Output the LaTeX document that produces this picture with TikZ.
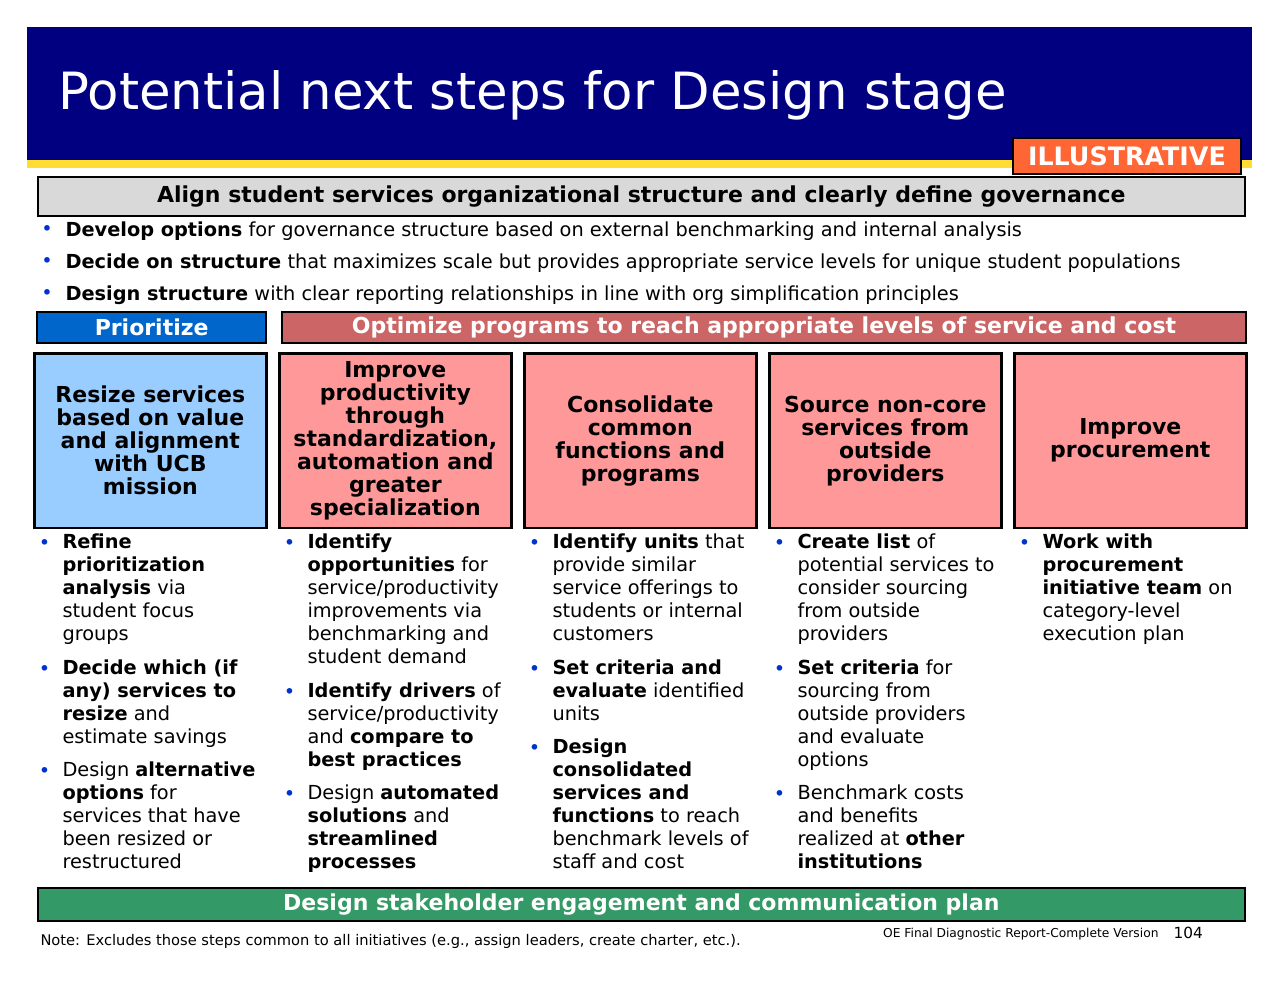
\documentclass[tikz,border=0pt]{standalone}
\usepackage{fontspec}
\setmainfont{DejaVu Sans}
\definecolor{navy}{RGB}{0,0,128}
\definecolor{stripe}{RGB}{255,221,51}
\definecolor{illus}{RGB}{255,102,51}
\definecolor{priblue}{RGB}{0,102,204}
\definecolor{optred}{RGB}{204,102,102}
\definecolor{lblue}{RGB}{153,204,255}
\definecolor{lpink}{RGB}{255,153,153}
\definecolor{greenbar}{RGB}{51,153,102}
\definecolor{bulblue}{RGB}{0,51,204}
\tikzset{every picture/.style={line width=0.75pt}}
\tikzset{
  bar/.style={draw=black,line width=1.5pt,font=\bfseries\fontsize{16.5}{19}\selectfont},
  box/.style={draw=black,line width=2pt,minimum width=174pt,minimum height=131pt,align=center,
    font=\bfseries\fontsize{16.5}{17.25}\selectfont,anchor=north west},
  item/.style={anchor=north west,align=left,inner sep=0pt,font=\fontsize{14.5}{17.25}\selectfont},
  topitem/.style={anchor=west,inner sep=0pt,font=\fontsize{14.5}{17}\selectfont},
  bul/.style={anchor=north,inner sep=0pt,text=bulblue,font=\fontsize{14.5}{17.25}\selectfont}
}
\begin{document}
\begin{tikzpicture}[x=0.75pt,y=0.75pt,yscale=-1,xscale=1]
\useasboundingbox (0,0) rectangle (1280,990);
% header
\fill [navy] (27,27) rectangle (1252,160);
\fill [stripe] (27,160) rectangle (1252,168);
\node (title) [anchor=west,text=white,inner sep=0pt,font=\fontsize{38.5}{42}\selectfont] at (58,95) {Potential next steps for Design stage};
\node (illus) [draw=black,line width=1.5pt,fill=illus,text=white,minimum width=171pt,minimum height=27pt,inner sep=0pt,
  font=\bfseries\fontsize{19}{22}\selectfont,anchor=north west] at (1012,137) {ILLUSTRATIVE};

% governance bar
\node (align) [bar,fill=black!15,minimum width=905pt,minimum height=29pt,anchor=north west,inner sep=0pt] at (37,176)
  {Align student services organizational structure and clearly define governance};
\node (b1) [topitem] at (65,231) {\textbf{Develop options} for governance structure based on external benchmarking and internal analysis};
\node (b2) [topitem] at (65,263) {\textbf{Decide on structure} that maximizes scale but provides appropriate service levels for unique student populations};
\node (b3) [topitem] at (65,295) {\textbf{Design structure} with clear reporting relationships in line with org simplification principles};
\foreach \yy in {231,263,295}
  \node [text=bulblue,inner sep=0pt,font=\fontsize{14.5}{17}\selectfont] at (47,\yy) {•};

% section bars
\node (prio) [bar,fill=priblue,text=white,draw=black,minimum width=172pt,minimum height=23pt,inner sep=0pt,anchor=north west] at (36,311) {Prioritize};
\node (optim) [bar,fill=optred,text=white,minimum width=723pt,minimum height=23pt,inner sep=0pt,anchor=north west] at (281,311)
  {Optimize programs to reach appropriate levels of service and cost};

% column boxes
\node (resize) [box,fill=lblue] at (33,352) {Resize services\\based on value\\and alignment\\with UCB\\mission};
\node (improve) [box,fill=lpink] at (278,352) {Improve\\productivity\\through\\standardization,\\automation and\\greater\\specialization};
\node (consol) [box,fill=lpink] at (523,352) {Consolidate\\common\\functions and\\programs};
\node (source) [box,fill=lpink] at (768,352) {Source non-core\\services from\\outside\\providers};
\node (procure) [box,fill=lpink] at (1013,352) {Improve\\procurement};

% column bullets
\node (r1) [item] at (62,533) {\textbf{Refine}\\\textbf{prioritization}\\\textbf{analysis} via\\student focus\\groups};
\node (r2) [item] at (62,659) {\textbf{Decide which (if}\\\textbf{any) services to}\\\textbf{resize} and\\estimate savings};
\node (r3) [item] at (62,761) {Design \textbf{alternative}\\\textbf{options} for\\services that have\\been resized or\\restructured};
\node (i1) [item] at (307,533) {\textbf{Identify}\\\textbf{opportunities} for\\service/productivity\\improvements via\\benchmarking and\\student demand};
\node (i2) [item] at (307,682) {\textbf{Identify drivers} of\\service/productivity\\and \textbf{compare to}\\\textbf{best practices}};
\node (i3) [item] at (307,784) {Design \textbf{automated}\\\textbf{solutions} and\\\textbf{streamlined}\\\textbf{processes}};
\node (c1) [item] at (552,533) {\textbf{Identify units} that\\provide similar\\service offerings to\\students or internal\\customers};
\node (c2) [item] at (552,659) {\textbf{Set criteria and}\\\textbf{evaluate} identified\\units};
\node (c3) [item] at (552,738) {\textbf{Design}\\\textbf{consolidated}\\\textbf{services and}\\\textbf{functions} to reach\\benchmark levels of\\staff and cost};
\node (s1) [item] at (797,533) {\textbf{Create list} of\\potential services to\\consider sourcing\\from outside\\providers};
\node (s2) [item] at (797,659) {\textbf{Set criteria} for\\sourcing from\\outside providers\\and evaluate\\options};
\node (s3) [item] at (797,784) {Benchmark costs\\and benefits\\realized at \textbf{other}\\\textbf{institutions}};
\node (p1) [item] at (1042,533) {\textbf{Work with}\\\textbf{procurement}\\\textbf{initiative team} on\\category-level\\execution plan};
\foreach \n in {r1,r2,r3,i1,i2,i3,c1,c2,c3,s1,s2,s3,p1}
  \node [bul] at ([xshift=-13pt]\n.north west) {\strut•};

% bottom
\node (stake) [bar,fill=greenbar,text=white,minimum width=905pt,minimum height=25pt,inner sep=0pt,anchor=north west] at (37,887)
  {Design stakeholder engagement and communication plan};
\node (note) [anchor=west,inner sep=0pt,font=\fontsize{11}{13}\selectfont] at (40,941)
  {Note: Excludes those steps common to all initiatives (e.g., assign leaders, create charter, etc.).};
\node (src) [anchor=east,inner sep=0pt,font=\fontsize{9.2}{11}\selectfont] at (1159,934) {OE Final Diagnostic Report-Complete Version};
\node (page) [anchor=west,inner sep=0pt,font=\fontsize{11.5}{13}\selectfont] at (1173,933) {104};
\end{tikzpicture}
\end{document}
